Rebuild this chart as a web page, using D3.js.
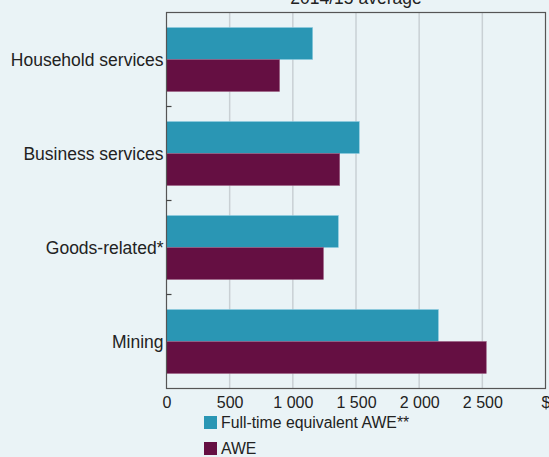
<!DOCTYPE html>
<html><head><meta charset="utf-8">
<script src="https://cdn.jsdelivr.net/npm/d3@7"></script>
<style>html,body{margin:0;padding:0;background:#EAF3F6;}svg{display:block;}</style>
</head><body>
<svg id="c" width="549" height="457"></svg>
<script>
const categories = ["Household services", "Business services", "Goods-related*", "Mining"];
const seriesNames = ["Full-time equivalent AWE**", "AWE"];
const fteAWE = [1157, 1526, 1360, 2152];
const awe = [895, 1371, 1242, 2531];
const tickValues = [0, 500, 1000, 1500, 2000, 2500, 3000];
const tickLabels = ["0", "500", "1 000", "1 500", "2 000", "2 500", "$"];
const title = "2014/15 average";
const colors = ["#2A96B4", "#650F42"];

const svg = d3.select("#c");
const m = {l: 166.5, r: 545.5, t: 12.5, b: 388.5};
const x = d3.scaleLinear().domain([0, 3000]).range([m.l, m.r]);
const y = d3.scaleBand().domain(categories).range([m.t, m.b]).paddingInner(0.32).paddingOuter(0.16);
const ySub = d3.scaleBand().domain(seriesNames).range([0, y.bandwidth()]);
const font = "Liberation Sans, Arial, sans-serif";

svg.append("rect").attr("width", 549).attr("height", 457).attr("fill", "#EAF3F6");

// grid
svg.append("g").selectAll("line").data(tickValues.slice(1, -1)).join("line")
  .attr("x1", d => x(d)).attr("x2", d => x(d))
  .attr("y1", m.t).attr("y2", m.b)
  .attr("stroke", "#C9D0D4").attr("stroke-width", 1.5);

const data = categories.map((c, i) => ({c, vals: [fteAWE[i], awe[i]]}));
const g = svg.append("g");
data.forEach(d => {
  d.vals.forEach((v, j) => {
    g.append("rect")
      .attr("x", x(0)).attr("y", y(d.c) + ySub(seriesNames[j]))
      .attr("width", x(v) - x(0)).attr("height", ySub.bandwidth())
      .attr("fill", colors[j])
      .attr("stroke", j === 0 ? "#8CCBE0" : "#9A5C80").attr("stroke-width", 0.6);
  });
});

// frame
svg.append("rect").attr("x", m.l).attr("y", m.t).attr("width", m.r - m.l).attr("height", m.b - m.t)
  .attr("fill", "none").attr("stroke", "#555").attr("stroke-width", 1.2);

// category boundary ticks
const bounds = categories.slice(1).map(c => y(c) - y.step() * y.paddingInner() / 2);
svg.append("g").selectAll("line").data(bounds).join("line")
  .attr("x1", m.l).attr("x2", m.l + 5).attr("y1", d => d).attr("y2", d => d)
  .attr("stroke", "#444").attr("stroke-width", 1.2);

// category labels
svg.append("g").selectAll("text").data(categories).join("text")
  .attr("x", m.l - 3).attr("y", d => y(d) + y.bandwidth() / 2)
  .attr("dy", "0.35em").attr("text-anchor", "end")
  .attr("font-family", font).attr("font-size", 17.5)
  .attr("fill", "#222").text(d => d);

// x axis
const xAxis = d3.axisBottom(x).tickValues(tickValues).tickSize(0).tickPadding(8)
  .tickFormat((d, i) => tickLabels[i]);
const ax = svg.append("g").attr("transform", `translate(0,${m.b})`).call(xAxis);
ax.select(".domain").remove();
ax.selectAll("text").attr("font-family", font).attr("font-size", 16).attr("fill", "#222");

// title
svg.append("text").attr("x", (m.l + m.r) / 2).attr("y", 4).attr("text-anchor", "middle")
  .attr("font-family", font).attr("font-size", 17.5).attr("fill", "#222")
  .text(title);

// legend
const lg = svg.append("g");
seriesNames.forEach((s, i) => {
  const yy = 416 + i * 26;
  lg.append("rect").attr("x", 204).attr("y", yy).attr("width", 13).attr("height", 13).attr("fill", colors[i]);
  lg.append("text").attr("x", 221).attr("y", yy + 11.5)
    .attr("font-family", font).attr("font-size", 15.8).attr("fill", "#222").text(s);
});
</script>
</body></html>
